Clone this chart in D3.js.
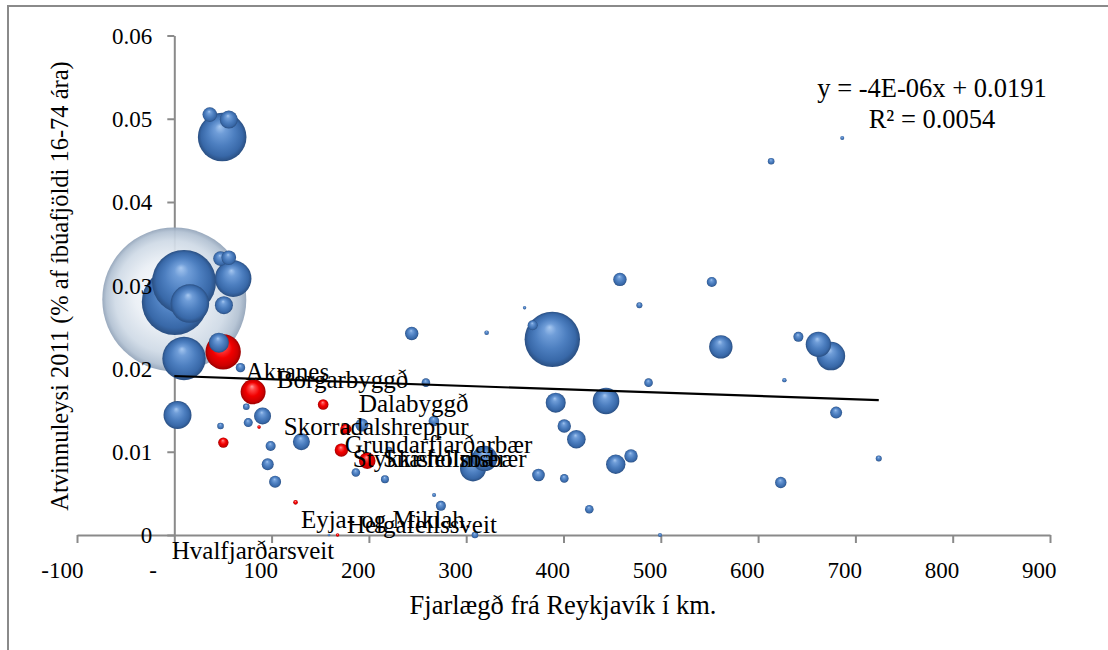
<!DOCTYPE html>
<html>
<head>
<meta charset="utf-8">
<script src="https://cdn.jsdelivr.net/npm/d3@7"></script>
<style>
  body { margin: 0; background: #fff; }
  svg { display: block; }
  text { font-family: "Liberation Serif", "Times New Roman", serif; fill: #000; }
</style>
</head>
<body>
<svg id="chart" width="1108" height="650"></svg>
<script>
// ---------------- DATA ----------------
const xTicks = [-100, 0, 100, 200, 300, 400, 500, 600, 700, 800, 900];
const yTicks = [0, 0.01, 0.02, 0.03, 0.04, 0.05, 0.06];

// Capital area (large translucent bubble)
const capitalX = [0];
const capitalY = [0.0283];
const capitalSize = [85000];

// Other municipalities (blue bubbles)
const otherX = [36.5, 56, 49.2, 10, 0.5, 16, 47.5, 56, 60.5, 51,
  10, 45.8, 68, 3.3, 74, 90.7, 47.5, 76, 99, 130.6,
  96, 103.6, 192.8, 266.8, 258.6, 220.6, 186.6, 216.5, 307, 319,
  267, 274, 309, 159, 244, 321, 360, 368.3, 388.5, 392,
  443.7, 400.8, 413.2, 374.3, 400.8, 426.5, 458, 478, 487.4, 453.7,
  469.4, 499.2, 552.4, 613.4, 686.5, 561.7, 641.4, 662, 674.8, 627,
  680.2, 724, 623.3];
const otherY = [0.0505, 0.0499, 0.0478, 0.0304, 0.0280, 0.0278, 0.0332, 0.0333, 0.0308, 0.0276,
  0.0212, 0.0231, 0.0201, 0.0144, 0.0154, 0.0143, 0.0131, 0.0135, 0.0107, 0.0112,
  0.0085, 0.0064, 0.0132, 0.0137, 0.0183, 0.0102, 0.0075, 0.0067, 0.0080, 0.0092,
  0.0048, 0.0035, 0, 0, 0.0242, 0.0243, 0.0273, 0.0252, 0.0235, 0.0159,
  0.0161, 0.0131, 0.0115, 0.0072, 0.0068, 0.0031, 0.0307, 0.0276, 0.0183, 0.0085,
  0.0095, 0, 0.0304, 0.0449, 0.0477, 0.0226, 0.0238, 0.0229, 0.0215, 0.0186,
  0.0147, 0.0092, 0.0063];
const otherSize = [874, 1328, 9684, 16794, 17860, 6109, 874, 874, 5492, 1328,
  7723, 1640, 362, 3214, 179, 1185, 179, 332, 410, 1185,
  590, 590, 693, 461, 303, 179, 303, 262, 2772, 2645,
  66, 410, 179, 28, 736, 87, 47, 410, 12584, 1640,
  2901, 736, 1418, 651, 303, 303, 736, 148, 303, 1543,
  736, 66, 410, 179, 66, 2245, 410, 2645, 3354, 79,
  590, 148, 533];

// Vesturland municipalities (red bubbles)
const westNames = ["Akranes", "Borgarbyggð", "Dalabyggð", "Hvalfjarðarsveit", "Skorradalshreppur",
  "Grundarfjarðarbær", "Stykkishólmsbær", "Snæfellsbær", "Eyja- og Miklah.", "Helgafellssveit"];
const westX = [50.2, 81.0, 153.0, 50.4, 87.1, 176.3, 171.7, 198.3, 124.6, 167.8];
const westY = [0.0220, 0.0172, 0.01568, 0.0111, 0.01296, 0.01272, 0.0102, 0.00892, 0.00392, 0];
const westSize = [5138, 2563, 461, 443, 53, 496, 736, 1130, 87, 47];

// Data label annotations (text start, in data units)
const labelNames = ["Akranes", "Borgarbyggð", "Dalabyggð", "Skorradalshreppur", "Grundarfjarðarbær",
  "Stykkishólmsbær", "Snæfellsbær", "Eyja- og Miklah.", "Helgafellssveit", "Hvalfjarðarsveit"];
const labelX = [73.5, 105.4, 189.7, 112.6, 175.3, 183.5, 214.4, 130.1, 177.4, -2.6];
const labelY = [0.0186, 0.01764, 0.01476, 0.0120, 0.00984, 0.00816, 0.00816, 0.00084, 0.00024, -0.00288];

// Linear trend line
const trendSlope = -0.000004;
const trendIntercept = 0.0191;
const trendRange = [0, 724];
const equationLines = ["y = -4E-06x + 0.0191", "R² = 0.0054"];

const xTitle = "Fjarlægð frá Reykjavík í km.";
const yTitle = "Atvinnuleysi 2011 (% af íbúafjöldi 16-74 ára)";

// ---------------- CHART ----------------
const FONT = '"Liberation Serif", "Times New Roman", serif';
const svg = d3.select("#chart").style("font-family", FONT);
const axisColor = "#8a8a8a";

const x = d3.scaleLinear().domain([-100, 900]).range([77, 1050]);
const y = d3.scaleLinear().domain([0, 0.06]).range([535, 35.5]);
const r = d3.scaleSqrt().domain([0, 85000]).range([0, 72]);

// chart border
svg.append("rect")
  .attr("x", 8).attr("y", 6).attr("width", 1120).attr("height", 680)
  .attr("fill", "#fff").attr("stroke", axisColor).attr("stroke-width", 2);

// gradients
const defs = svg.append("defs");
function radial(id, fx, fy, stops) {
  const g = defs.append("radialGradient").attr("id", id)
    .attr("cx", "50%").attr("cy", "50%").attr("r", "50%")
    .attr("fx", fx).attr("fy", fy);
  stops.forEach(s => g.append("stop").attr("offset", s[0]).attr("stop-color", s[1]).attr("stop-opacity", s[2] == null ? 1 : s[2]));
}
radial("gBlue", "45%", "28%", [["0%", "#a6c7f0"], ["22%", "#6f9dd8"], ["55%", "#4d7fc0"], ["85%", "#3868a8"], ["100%", "#2a4f82"]]);
radial("gRed", "45%", "28%", [["0%", "#ff9c9c"], ["22%", "#ff4545"], ["55%", "#f20000"], ["85%", "#cc0000"], ["100%", "#9a0000"]]);
radial("gLight", "40%", "42%", [["0%", "#fbfcfe", 0.95], ["45%", "#eaeff5", 0.93], ["78%", "#cfdae6", 0.93], ["93%", "#b3c2d3", 0.95], ["100%", "#94a5ba", 0.95]]);

// axes lines and ticks (below bubbles)
const xAxis = d3.axisBottom(x).tickValues(xTicks).tickSize(8).tickSizeOuter(0).tickFormat(() => "");
const yAxis = d3.axisLeft(y).tickValues(yTicks).tickSize(7).tickSizeOuter(0).tickFormat(() => "");
const gx = svg.append("g").attr("transform", `translate(0,${y(0)})`).call(xAxis);
const gy = svg.append("g").attr("transform", `translate(${x(0)},0)`).call(yAxis);
[gx, gy].forEach(g => {
  g.select(".domain").attr("stroke", axisColor).attr("stroke-width", 2);
  g.selectAll(".tick line").attr("stroke", axisColor).attr("stroke-width", 2);
});

// bubbles
const bubbles = [];
capitalX.forEach((d, i) => bubbles.push({ x: capitalX[i], y: capitalY[i], s: capitalSize[i], fill: "url(#gLight)" }));
otherX.forEach((d, i) => bubbles.push({ x: otherX[i], y: otherY[i], s: otherSize[i], fill: "url(#gBlue)" }));
westX.forEach((d, i) => bubbles.push({ x: westX[i], y: westY[i], s: westSize[i], fill: "url(#gRed)", name: westNames[i] }));
bubbles.sort((a, b) => b.s - a.s);

svg.append("g").selectAll("circle").data(bubbles).join("circle")
  .attr("cx", d => x(d.x)).attr("cy", d => y(d.y)).attr("r", d => r(d.s))
  .attr("fill", d => d.fill);

// trend line
const line = d3.line().x(d => x(d)).y(d => y(trendIntercept + trendSlope * d));
svg.append("path").datum(trendRange).attr("d", line)
  .attr("fill", "none").attr("stroke", "#000").attr("stroke-width", 2.2);

// tick labels (on top)
const xLab = d3.axisBottom(x).tickValues(xTicks).tickSize(0)
  .tickFormat(d => d === 0 ? "-" : (d < 0 ? "-" + Math.abs(d) : String(d)));
const gxl = svg.append("g").attr("transform", `translate(0,${y(0)})`).call(xLab);
gxl.select(".domain").remove();
gxl.attr("font-family", null).attr("font-size", null);
gxl.selectAll(".tick text")
  .style("font-family", FONT).style("font-size", "23px").attr("fill", "#000")
  .attr("text-anchor", "end")
  .attr("x", d => d === 0 ? -18 : 6)
  .attr("y", 43).attr("dy", "0");

const yLab = d3.axisLeft(y).tickValues(yTicks).tickSize(0)
  .tickFormat(d => d === 0 ? "0" : d3.format(".2f")(d));
const gyl = svg.append("g").attr("transform", `translate(${x(0)},0)`).call(yLab);
gyl.select(".domain").remove();
gyl.attr("font-family", null).attr("font-size", null);
gyl.selectAll(".tick text")
  .style("font-family", FONT).style("font-size", "23px").attr("fill", "#000")
  .attr("text-anchor", "end").attr("x", -22).attr("dy", "0.34em");

// data labels
svg.append("g").selectAll("text").data(labelNames).join("text")
  .attr("x", (d, i) => x(labelX[i])).attr("y", (d, i) => y(labelY[i]))
  .style("font-size", "25px")
  .text(d => d);

// equation
svg.append("g").selectAll("text").data(equationLines).join("text")
  .attr("x", 932).attr("y", (d, i) => 97 + i * 30.5)
  .attr("text-anchor", "middle").style("font-size", "26.5px")
  .text(d => d);

// axis titles
svg.append("text").attr("x", 563).attr("y", 614)
  .attr("text-anchor", "middle").style("font-size", "26.5px").text(xTitle);
svg.append("text").attr("transform", "translate(68,286) rotate(-90)")
  .attr("text-anchor", "middle").style("font-size", "24.5px").text(yTitle);
</script>
</body>
</html>
